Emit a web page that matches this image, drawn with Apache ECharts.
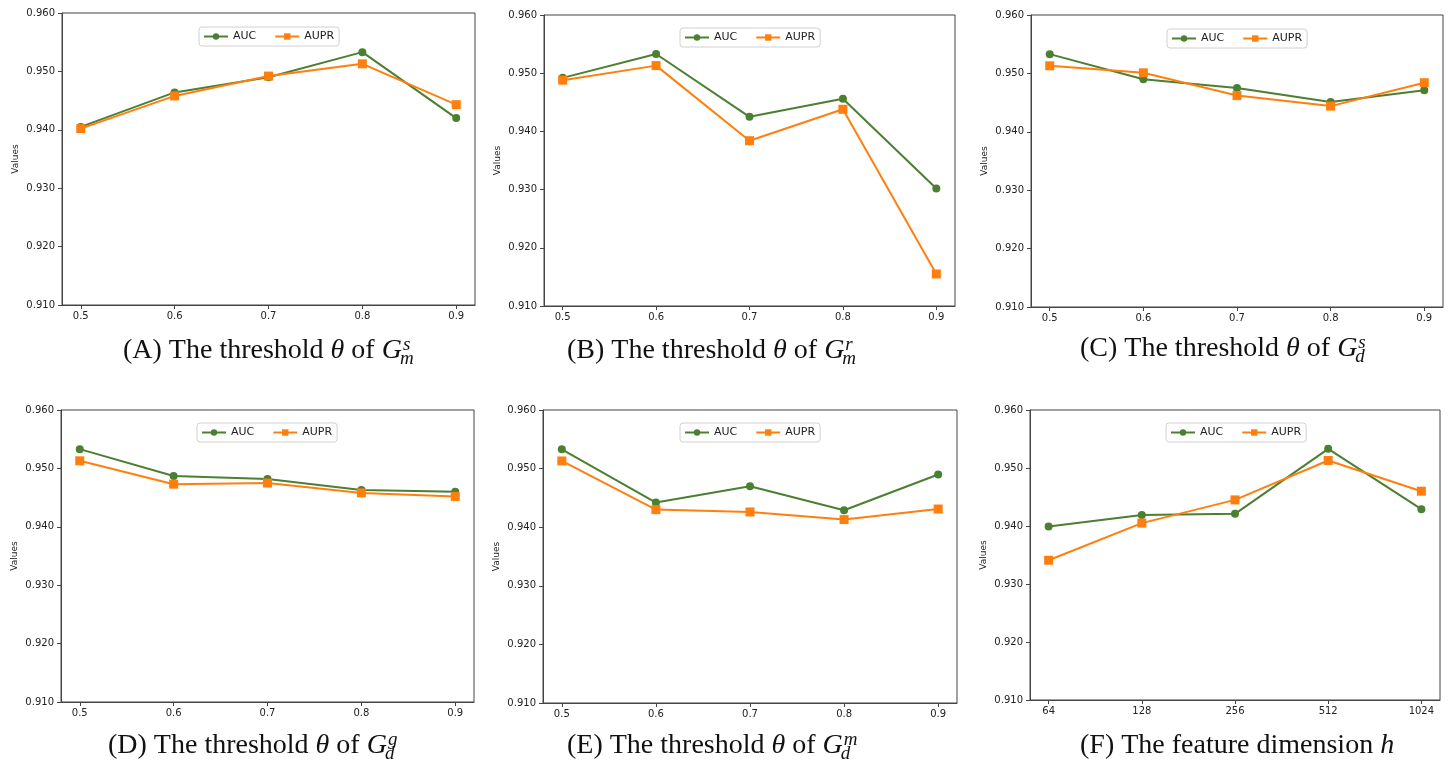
<!DOCTYPE html>
<html>
<head>
<meta charset="utf-8">
<script src="https://cdn.jsdelivr.net/npm/echarts@6/dist/echarts.min.js"></script>
<style>
html,body{margin:0;padding:0;background:#fff;}
#main{width:1449px;height:766px;}
</style>
</head>
<body>
<div id="main"></div>
<script>
// ---- data ----
const thetaLabels = ['0.5', '0.6', '0.7', '0.8', '0.9'];
const dimLabels = ['64', '128', '256', '512', '1024'];
const yTicks = [0.910, 0.920, 0.930, 0.940, 0.950, 0.960];

const aucA  = [0.9405, 0.9464, 0.9490, 0.9533, 0.9420];
const auprA = [0.9402, 0.9458, 0.9492, 0.9513, 0.9443];
const aucB  = [0.9492, 0.9533, 0.9425, 0.9456, 0.9302];
const auprB = [0.9488, 0.9513, 0.9384, 0.9438, 0.9155];
const aucC  = [0.9533, 0.9490, 0.9475, 0.9451, 0.9471];
const auprC = [0.9513, 0.9501, 0.9462, 0.9444, 0.9484];
const aucD  = [0.9533, 0.9487, 0.9482, 0.9463, 0.9460];
const auprD = [0.9513, 0.9473, 0.9475, 0.9458, 0.9452];
const aucE  = [0.9533, 0.9442, 0.9470, 0.9429, 0.9490];
const auprE = [0.9513, 0.9430, 0.9426, 0.9413, 0.9431];
const aucF  = [0.9399, 0.9419, 0.9421, 0.9533, 0.9429];
const auprF = [0.9341, 0.9405, 0.9445, 0.9513, 0.9460];

const seriesNames = ['AUC', 'AUPR'];
const captionsText = [
  {pre: '(A) The threshold ', sym: 'θ', mid: ' of ', base: 'G', sup: 's', sub: 'm'},
  {pre: '(B) The threshold ', sym: 'θ', mid: ' of ', base: 'G', sup: 'r', sub: 'm'},
  {pre: '(C) The threshold ', sym: 'θ', mid: ' of ', base: 'G', sup: 's', sub: 'd'},
  {pre: '(D) The threshold ', sym: 'θ', mid: ' of ', base: 'G', sup: 'g', sub: 'd'},
  {pre: '(E) The threshold ', sym: 'θ', mid: ' of ', base: 'G', sup: 'm', sub: 'd'},
  {pre: '(F) The feature dimension ', sym: 'h', mid: '', base: '', sup: '', sub: ''}
];

// ---- layout ----
const panels = [
  {grid: {left: 62,  top: 13,  width: 413, height: 292}, labels: thetaLabels, auc: aucA, aupr: auprA, legend: [199, 27],  cap: [123, 360]},
  {grid: {left: 544, top: 15,  width: 411, height: 291}, labels: thetaLabels, auc: aucB, aupr: auprB, legend: [680, 28],  cap: [567, 360]},
  {grid: {left: 1031,top: 15,  width: 412, height: 292}, labels: thetaLabels, auc: aucC, aupr: auprC, legend: [1167, 29], cap: [1080, 358]},
  {grid: {left: 61,  top: 410, width: 413, height: 292}, labels: thetaLabels, auc: aucD, aupr: auprD, legend: [197, 423], cap: [108, 755]},
  {grid: {left: 543, top: 410, width: 414, height: 293}, labels: thetaLabels, auc: aucE, aupr: auprE, legend: [680, 423], cap: [567, 755]},
  {grid: {left: 1030,top: 410, width: 410, height: 290}, labels: dimLabels,   auc: aucF, aupr: auprF, legend: [1166, 423], cap: [1080, 755]}
];

const GREEN = '#4b7f31';
const ORANGE = '#ff7f0e';
const TICK_FONT = 'DejaVu Sans';
const SERIF = 'Liberation Serif';
const CAP_SIZE = 28;
const SS_SIZE = 19;

const measureCtx = document.createElement('canvas').getContext('2d');
function textW(t, font) { measureCtx.font = font; return measureCtx.measureText(t).width; }

const option = {
  animation: false,
  backgroundColor: '#fff',
  grid: [], xAxis: [], yAxis: [], series: [], legend: [], graphic: []
};

panels.forEach((p, i) => {
  option.grid.push(Object.assign({show: true, borderColor: '#444', borderWidth: 1, backgroundColor: '#fff', containLabel: false}, p.grid));
  const idx = p.labels.map((_, k) => k);
  option.xAxis.push({
    type: 'value', gridIndex: i, min: -0.2, max: 4.2,
    axisLine: {show: true, onZero: false, lineStyle: {color: '#444', width: 1}},
    axisTick: {show: true, customValues: idx, length: 4, lineStyle: {color: '#444'}},
    axisLabel: {show: true, customValues: idx, margin: 6, color: '#222', fontFamily: TICK_FONT, fontSize: 10,
      formatter: v => p.labels[Math.round(v)]},
    splitLine: {show: false}
  });
  option.yAxis.push({
    type: 'value', gridIndex: i, min: 0.91, max: 0.96, interval: 0.01,
    name: 'Values', nameLocation: 'middle', nameGap: 42, nameRotate: 90,
    nameTextStyle: {color: '#222', fontFamily: TICK_FONT, fontSize: 9},
    axisLine: {show: true, onZero: false, lineStyle: {color: '#444', width: 1}},
    axisTick: {show: true, length: 4, lineStyle: {color: '#444'}},
    axisLabel: {margin: 7, color: '#222', fontFamily: TICK_FONT, fontSize: 10, formatter: v => v.toFixed(3)},
    splitLine: {show: false}
  });
  option.series.push({
    name: seriesNames[0], type: 'line', xAxisIndex: i, yAxisIndex: i,
    data: p.auc.map((v, k) => [k, v]),
    symbol: 'circle', symbolSize: 8, showAllSymbol: true,
    lineStyle: {color: GREEN, width: 2}, itemStyle: {color: GREEN}, z: 3
  });
  option.series.push({
    name: seriesNames[1], type: 'line', xAxisIndex: i, yAxisIndex: i,
    data: p.aupr.map((v, k) => [k, v]),
    symbol: 'rect', symbolSize: 9, showAllSymbol: true,
    lineStyle: {color: ORANGE, width: 2}, itemStyle: {color: ORANGE}, z: 4
  });
  option.legend.push({
    data: seriesNames, left: p.legend[0], top: p.legend[1], orient: 'horizontal',
    itemWidth: 24, itemHeight: 8, itemGap: 18,
    borderColor: '#d0d0d0', borderWidth: 1, borderRadius: 3, padding: [4, 5, 4, 4],
    backgroundColor: '#fff', selectedMode: false,
    textStyle: {color: '#222', fontFamily: TICK_FONT, fontSize: 11}
  });

  // caption
  const c = captionsText[i];
  const fN = CAP_SIZE + 'px "' + SERIF + '"';
  const fI = 'italic ' + CAP_SIZE + 'px "' + SERIF + '"';
  const fS = 'italic ' + SS_SIZE + 'px "' + SERIF + '"';
  let x = p.cap[0];
  const base = p.cap[1];
  const yMid = base - CAP_SIZE * 0.34;
  const parts = [[c.pre, false], [c.sym, true], [c.mid, false], [c.base, true]];
  parts.forEach(([t, it]) => {
    if (!t) return;
    option.graphic.push({type: 'text', x: x, y: yMid, silent: true,
      style: {text: t, fill: '#111', font: it ? fI : fN, verticalAlign: 'middle', align: 'left'}});
    x += textW(t, it ? fI : fN);
  });
  if (c.sup) {
    option.graphic.push({type: 'text', x: x + 1, y: base - 9 - SS_SIZE * 0.34, silent: true,
      style: {text: c.sup, fill: '#111', font: fS, verticalAlign: 'middle', align: 'left'}});
    option.graphic.push({type: 'text', x: x - 2, y: base + 5 - SS_SIZE * 0.34, silent: true,
      style: {text: c.sub, fill: '#111', font: fS, verticalAlign: 'middle', align: 'left'}});
  }
});

const chart = echarts.init(document.getElementById('main'), null, {renderer: 'canvas'});
chart.setOption(option);
</script>
</body>
</html>
